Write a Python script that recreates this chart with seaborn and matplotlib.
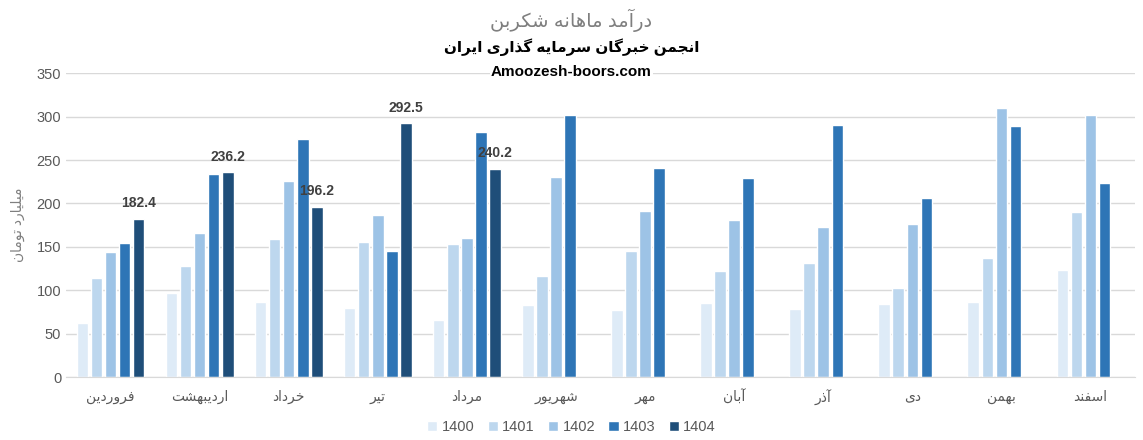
import matplotlib
matplotlib.use('Agg')
import matplotlib.pyplot as plt
import pandas as pd
import seaborn as sns

# dados (milliard toman)
months = ['فروردین', 'اردیبهشت', 'خرداد', 'تیر', 'مرداد', 'شهریور',
          'مهر', 'آبان', 'آذر', 'دی', 'بهمن', 'اسفند']
years = ['1400', '1401', '1402', '1403', '1404']
v1400 = [62, 97, 86.5, 79.5, 65.6, 83, 77, 85, 78.5, 84, 86, 123]
v1401 = [114, 128, 159, 155.6, 153, 116, 145, 122, 131, 102, 137, 190]
v1402 = [144, 166, 226, 186.7, 160, 230, 191, 181, 172.6, 176, 310, 302]
v1403 = [154.5, 234, 274, 145, 282, 302, 241, 229.5, 290, 206, 289, 224]
v1404 = [182.4, 236.2, 196.2, 292.5, 240.2]
colors = ['#DEEBF7', '#BDD7EE', '#9DC3E6', '#2E75B6', '#1F4E79']

title = 'درآمد ماهانه شکربن'
subtitle = 'انجمن خبرگان سرمایه گذاری ایران'
site = 'Amoozesh-boors.com'
ylabel = 'میلیارد تومان'

# formas de apresentacao (isolada, final, inicial, medial) para o texto persa
FORMS = {
    'ا': ('\uFE8D', '\uFE8E', None, None), 'آ': ('\uFE81', '\uFE82', None, None),
    'د': ('\uFEA9', '\uFEAA', None, None), 'ذ': ('\uFEAB', '\uFEAC', None, None),
    'ر': ('\uFEAD', '\uFEAE', None, None), 'ز': ('\uFEAF', '\uFEB0', None, None),
    'و': ('\uFEED', '\uFEEE', None, None),
    'ب': ('\uFE8F', '\uFE90', '\uFE91', '\uFE92'), 'ت': ('\uFE95', '\uFE96', '\uFE97', '\uFE98'),
    'ج': ('\uFE9D', '\uFE9E', '\uFE9F', '\uFEA0'), 'خ': ('\uFEA5', '\uFEA6', '\uFEA7', '\uFEA8'),
    'س': ('\uFEB1', '\uFEB2', '\uFEB3', '\uFEB4'), 'ش': ('\uFEB5', '\uFEB6', '\uFEB7', '\uFEB8'),
    'ف': ('\uFED1', '\uFED2', '\uFED3', '\uFED4'), 'ک': ('\uFB8E', '\uFB8F', '\uFB90', '\uFB91'),
    'گ': ('\uFB92', '\uFB93', '\uFB94', '\uFB95'), 'ل': ('\uFEDD', '\uFEDE', '\uFEDF', '\uFEE0'),
    'م': ('\uFEE1', '\uFEE2', '\uFEE3', '\uFEE4'), 'ن': ('\uFEE5', '\uFEE6', '\uFEE7', '\uFEE8'),
    'ه': ('\uFEE9', '\uFEEA', '\uFEEB', '\uFEEC'), 'ی': ('\uFBFC', '\uFBFD', '\uFBFE', '\uFBFF'),
}


def fa(s):
    out = []
    for i, c in enumerate(s):
        if c not in FORMS:
            out.append(c)
            continue
        prev = s[i - 1] if i > 0 else ''
        nxt = s[i + 1] if i + 1 < len(s) else ''
        jp = prev in FORMS and FORMS[prev][2] is not None
        jn = FORMS[c][2] is not None and nxt in FORMS
        if jp and jn:
            out.append(FORMS[c][3])
        elif jp:
            out.append(FORMS[c][1])
        elif jn:
            out.append(FORMS[c][2])
        else:
            out.append(FORMS[c][0])
    return ''.join(out)[::-1]


rows = []
for y, vals in zip(years, [v1400, v1401, v1402, v1403, v1404]):
    for m, v in zip(months, vals):
        rows.append({'mes': fa(m), 'ano': y, 'valor': v})
df = pd.DataFrame(rows)

sns.set_style('white')
plt.rcParams['font.family'] = ['Liberation Sans', 'DejaVu Sans']

fig = plt.figure(figsize=(11.43, 4.4), dpi=100)
ax = fig.add_axes([66 / 1143, 1 - 377 / 440, (1135 - 66) / 1143, (377 - 73.3) / 440])

sns.barplot(data=df, x='mes', y='valor', hue='ano', order=[fa(m) for m in months],
            hue_order=years, palette=colors, saturation=1, width=0.79, gap=0.18,
            errorbar=None, ax=ax)

ax.bar_label(ax.containers[4], fmt='%.1f', padding=6, fontsize=10,
             fontweight='bold', color='#404040')

ax.set_ylim(0, 350)
ax.set_xlim(-0.5, 11.5)
ax.set_yticks(range(0, 351, 50))
ax.grid(axis='y', color='#D9D9D9', linewidth=1)
ax.set_axisbelow(True)
for s in ['top', 'right', 'left']:
    ax.spines[s].set_visible(False)
ax.spines['bottom'].set_color('#D9D9D9')
ax.tick_params(axis='both', length=0, colors='#595959', labelsize=10.5)
ax.tick_params(axis='x', pad=9, labelsize=10)
ax.set_xlabel('')
ax.set_ylabel('')

fig.text(18 / 1143, 1 - 225 / 440, fa(ylabel), rotation=90, ha='center', va='center',
         color='#7F7F7F', fontsize=10)
fig.text(0.5, 1 - 20 / 440, fa(title), ha='center', va='center', color='#7F7F7F', fontsize=14)
fig.text(0.5, 1 - 47 / 440, fa(subtitle), ha='center', va='center', color='black',
         fontsize=11, fontweight='bold')
fig.text(0.5, 1 - 72 / 440, site, ha='center', va='center', color='black', fontsize=11,
         fontweight='bold', bbox=dict(facecolor='white', edgecolor='none', pad=1))

ax.get_legend().remove()
handles, labels = ax.get_legend_handles_labels()
fig.legend(handles, labels, loc='center', bbox_to_anchor=(0.5, 1 - 427 / 440), ncol=5,
           frameon=False, handlelength=0.7, handleheight=0.7, handletextpad=0.3,
           columnspacing=0.9, labelcolor='#595959', fontsize=10.5)

plt.savefig('out.png', dpi=100)
